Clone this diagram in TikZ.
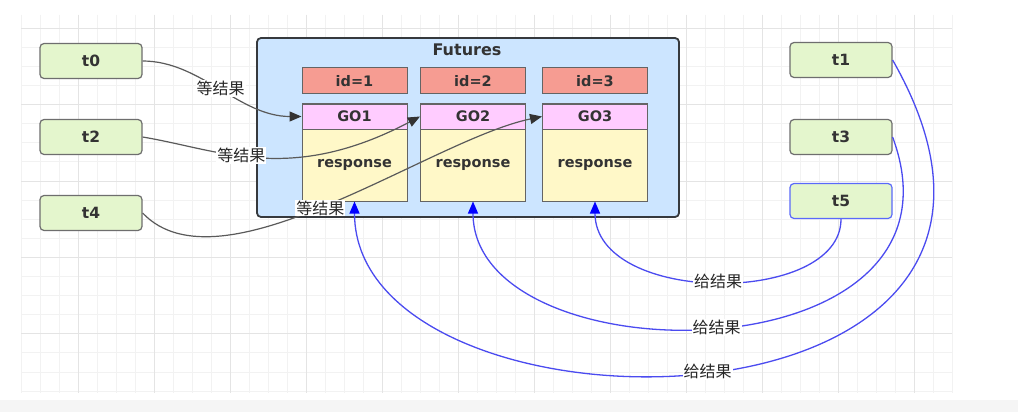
\documentclass[tikz,border=0pt]{standalone}
\usepackage{fontspec}
\setmainfont{DejaVu Sans}
\newfontfamily\cjk{Noto Sans CJK SC}
\usetikzlibrary{arrows.meta}
\definecolor{gridminor}{RGB}{242,242,242}
\definecolor{gridmajor}{RGB}{228,228,228}
\definecolor{textgray}{RGB}{51,51,51}
\definecolor{threadfill}{RGB}{228,246,205}
\definecolor{threadline}{RGB}{110,110,110}
\definecolor{threadblue}{RGB}{90,105,250}
\definecolor{futfill}{RGB}{204,229,255}
\definecolor{futline}{RGB}{54,57,61}
\definecolor{idfill}{RGB}{246,156,146}
\definecolor{gofill}{RGB}{255,204,255}
\definecolor{respfill}{RGB}{255,248,200}
\definecolor{boxline}{RGB}{100,100,100}
\definecolor{giveline}{RGB}{75,75,240}
\definecolor{givehead}{RGB}{0,0,255}
\definecolor{waitline}{RGB}{90,90,90}

\begin{document}
\begin{tikzpicture}[x=1pt,y=-1pt]
\tikzstyle{thread}=[draw=threadline,fill=threadfill,rounded corners=4pt,line width=1.2pt,minimum width=102pt,minimum height=35pt,text=textgray,font=\bfseries\fontsize{15.5}{15.5}\selectfont]
\tikzstyle{cell}=[draw=boxline,line width=1pt,minimum width=105pt,text=textgray,font=\bfseries\fontsize{14.5}{14.5}\selectfont]
\tikzstyle{wait}=[draw=waitline,line width=1.2pt,-{Triangle[length=12pt,width=10pt,color=textgray]}]
\tikzstyle{give}=[draw=giveline,line width=1.3pt,-{Triangle[length=12pt,width=10pt,color=givehead]}]
\tikzstyle{msg}=[fill=white,inner sep=1pt,text=black!85,font=\cjk\fontsize{16}{16}\selectfont]
\useasboundingbox (0,0) rectangle (1018,412);
\fill[white] (0,0) rectangle (1018,412);
\fill[black!4] (0,400) rectangle (1018,412);

% grid
\foreach \i in {0,...,49} \draw[gridminor,line width=0.8pt] ({21+19*\i},15) -- ({21+19*\i},393);
\foreach \j in {1,...,20} \draw[gridminor,line width=0.8pt] (21,{9+19.1*\j}) -- (952,{9+19.1*\j});
\foreach \i in {0,...,11} \draw[gridmajor,line width=0.8pt] ({78+76*\i},15) -- ({78+76*\i},393);
\foreach \j in {1,5,9,13,17} \draw[gridmajor,line width=0.8pt] (21,{9+19.1*\j}) -- (952,{9+19.1*\j});

% threads
\path (91,61) node[thread](t0){t0} (91,137) node[thread](t2){t2} (91,213) node[thread](t4){t4};
\path (841,60) node[thread](t1){t1} (841,137) node[thread](t3){t3};
\path (841,201) node[thread,draw=threadblue](t5){t5};

% futures
\path (468,127.5) node[draw=futline,fill=futfill,line width=1.8pt,rounded corners=4pt,minimum width=422pt,minimum height=179pt](fut){};
\path (467,50) node[text=textgray,font=\bfseries\fontsize{16}{16}\selectfont](futures){Futures};
\path (354.5,81) node[cell,fill=idfill,minimum height=26pt](id1){id=1}
      (473,81) node[cell,fill=idfill,minimum height=26pt](id2){id=2}
      (595,81) node[cell,fill=idfill,minimum height=26pt](id3){id=3};
\path (354.5,165) node[cell,fill=respfill,minimum height=72pt](r1){response}
      (473,165) node[cell,fill=respfill,minimum height=72pt](r2){response}
      (595,165) node[cell,fill=respfill,minimum height=72pt](r3){response};
\path (354.5,116.5) node[cell,fill=gofill,minimum height=25pt](go1){GO1}
      (473,116.5) node[cell,fill=gofill,minimum height=25pt](go2){GO2}
      (595,116.5) node[cell,fill=gofill,minimum height=25pt](go3){GO3};

% waiting
\draw[wait] (t0.east) .. controls +(58,0) and +(-62,0) .. node[msg,pos=0.5]{等结果} (go1.west);
\draw[wait] (t2.east) .. controls +(78,13) and +(-130,68.5) .. node[msg,pos=0.42]{等结果} (go2.west);
\draw[wait] (t4.east) .. controls +(78,82) and +(-112,23.5) .. node[msg,pos=0.48]{等结果} (go3.west);

% giving
\draw[give] (t5.south) .. controls +(0,87) and +(0,104) .. node[msg,pos=0.5]{给结果} (r3.south);
\draw[give] (t3.east) .. controls +(90,243) and +(0,179) .. node[msg,pos=0.5]{给结果} (r2.south);
\draw[give] (t1.east) .. controls +(224,392) and +(0,251) .. node[msg,pos=0.5]{给结果} (r1.south);
\end{tikzpicture}
\end{document}
